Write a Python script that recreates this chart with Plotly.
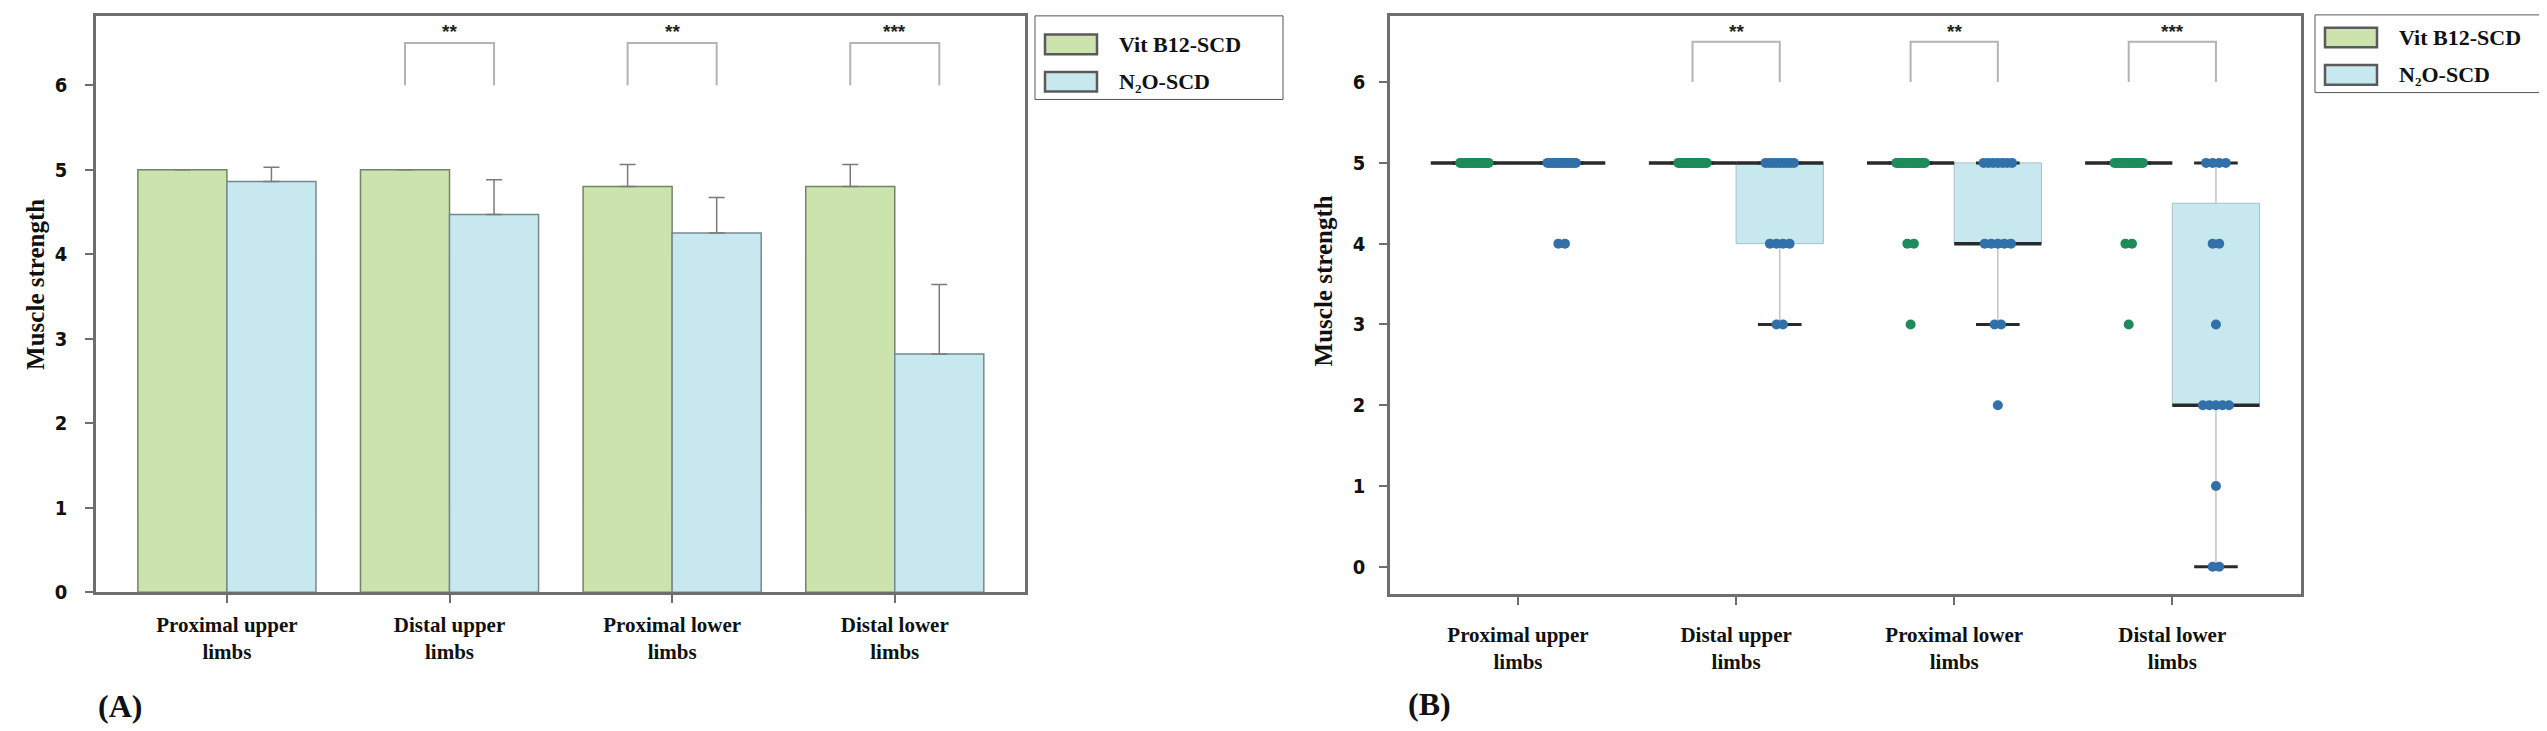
import numpy as np
import plotly.graph_objects as go

W, H = 2547, 731

categories = ['Proximal upper<br>limbs', 'Distal upper<br>limbs',
              'Proximal lower<br>limbs', 'Distal lower<br>limbs']
group_names = ['Vit B12-SCD', 'N₂O-SCD']

# (A) mean score and upper error bar
vit_mean = [5.0, 5.0, 4.8, 4.8]
vit_err = [0.0, 0.0, 0.26, 0.26]
n2o_mean = [4.86, 4.47, 4.25, 2.82]
n2o_err = [0.17, 0.41, 0.42, 0.82]

significance = ['', '**', '**', '***']

# (B) how many patients had each score (dots counted from the picture)
score_levels = [0, 1, 2, 3, 4, 5]
vit_counts = [
    [0, 0, 0, 0, 0, 20],
    [0, 0, 0, 0, 0, 20],
    [0, 0, 0, 1, 2, 17],
    [0, 0, 0, 1, 2, 17],
]
n2o_counts = [
    [0, 0, 0, 0, 2, 13],
    [0, 0, 0, 2, 4, 9],
    [0, 0, 1, 2, 5, 7],
    [2, 1, 5, 1, 2, 4],
]

GREEN = '#cde3ad'
BLUE = '#c6e8ee'
GREEN_DOT = '#1d8b5b'
BLUE_DOT = '#3170a9'
AXIS = '#6e6e6e'
SERIF = 'Liberation Serif, Times New Roman, serif'
NARROW = 'Liberation Sans Narrow, DejaVu Sans Condensed, Arial Narrow, sans-serif'

OFF = 0.2      # half distance between the two groups
BW = 0.4       # bar / box width
pos = np.arange(len(categories))


def px(x):
    return x / W


def py(y):
    return 1 - y / H


fig = go.Figure()

# ---------------- panel A : bars with error bars ----------------
for mean, err, off, col, lc in [(vit_mean, vit_err, -OFF, GREEN, '#73836b'),
                               (n2o_mean, n2o_err, OFF, BLUE, '#74898e')]:
    fig.add_trace(go.Bar(
        x=pos + off, y=mean, width=BW,
        marker=dict(color=col, line=dict(color=lc, width=1.5)),
        error_y=dict(type='data', array=err, arrayminus=[0] * len(err), symmetric=False,
                     color='#7a7a7a', thickness=1.5, width=8),
        showlegend=False, xaxis='x', yaxis='y'
    ))


# ---------------- panel B : box plots with dots ----------------
def box_traces(counts, off, fill, dot):
    bx, bbase, bh = [], [], []
    wx, wy, mx, my, cx, cy, dx, dy = [], [], [], [], [], [], [], []
    for i, c in enumerate(counts):
        vals = np.repeat(score_levels, c)
        q1, med, q3 = np.percentile(vals, [25, 50, 75])
        iqr = q3 - q1
        lo = vals[vals >= q1 - 1.5 * iqr].min()
        hi = vals[vals <= q3 + 1.5 * iqr].max()
        xc = i + off
        bx.append(xc)
        bbase.append(q1)
        bh.append(q3 - q1)
        wx += [xc, xc, None, xc, xc, None]
        wy += [q3, hi, None, q1, lo, None]
        mx += [xc - BW / 2, xc + BW / 2, None]
        my += [med, med, None]
        cx += [xc - BW / 4, xc + BW / 4, None, xc - BW / 4, xc + BW / 4, None]
        cy += [hi, hi, None, lo, lo, None]
        # small deterministic spread so dots at the same score stay visible
        for lvl, k in zip(score_levels, c):
            if k == 0:
                continue
            step = min(0.03, 0.13 / (k - 1)) if k > 1 else 0
            for j in range(k):
                dx.append(xc + (j - (k - 1) / 2) * step)
                dy.append(lvl)
    ax = dict(xaxis='x2', yaxis='y2', showlegend=False, hoverinfo='skip')
    return [
        go.Bar(x=bx, base=bbase, y=bh, width=BW,
               marker=dict(color=fill, line=dict(color='#a9bfc4', width=1)), **ax),
        go.Scatter(x=wx, y=wy, mode='lines', line=dict(color='#c4c4c4', width=1.5), **ax),
        go.Scatter(x=mx, y=my, mode='lines', line=dict(color='#2a2a2a', width=3.5), **ax),
        go.Scatter(x=cx, y=cy, mode='lines', line=dict(color='#2a2a2a', width=3), **ax),
        go.Scatter(x=dx, y=dy, mode='markers', marker=dict(color=dot, size=10), **ax),
    ]


for tr in box_traces(vit_counts, -OFF, GREEN, GREEN_DOT) + box_traces(n2o_counts, OFF, BLUE, BLUE_DOT):
    fig.add_trace(tr)

# significance brackets on both panels
for xa, ya in [('x', 'y'), ('x2', 'y2')]:
    bxs, bys = [], []
    for i, s in enumerate(significance):
        if not s:
            continue
        bxs += [i - OFF, i - OFF, i + OFF, i + OFF, None]
        bys += [6.0, 6.5, 6.5, 6.0, None]
        fig.add_annotation(x=i, y=6.63, xref=xa, yref=ya, text=s, showarrow=False,
                           font=dict(family='Liberation Sans, Arial, sans-serif', size=19,
                                     color='#222', weight='bold'))
    fig.add_trace(go.Scatter(x=bxs, y=bys, mode='lines', line=dict(color='#b3b3b3', width=2),
                             xaxis=xa, yaxis=ya, showlegend=False, hoverinfo='skip'))

axis_common = dict(showline=True, linecolor=AXIS, linewidth=2.5, mirror=True,
                   ticks='outside', tickcolor=AXIS, ticklen=8, tickwidth=2,
                   showgrid=False, zeroline=False)
xfont = dict(family=SERIF, size=21, color='#111', weight='bold')
yfont = dict(family=NARROW, size=20, color='#111', weight='bold')

fig.update_layout(
    width=W, height=H,
    margin=dict(l=0, r=0, t=0, b=0),
    paper_bgcolor='white', plot_bgcolor='white',
    barmode='overlay',
    xaxis=dict(domain=[px(88), px(1017)], range=[-0.588, 3.585], anchor='y',
               tickvals=list(pos), ticktext=categories, tickfont=xfont,
               ticklabelstandoff=4, **axis_common),
    yaxis=dict(domain=[py(594), py(8)], range=[0, 6.82], anchor='x',
               tickvals=[0, 1, 2, 3, 4, 5, 6], tickfont=yfont,
               ticklabelstandoff=14, **axis_common),
    xaxis2=dict(domain=[px(1382), px(2293)], range=[-0.587, 3.59], anchor='y2',
                tickvals=list(pos), ticktext=categories, tickfont=xfont,
                ticklabelstandoff=12, **axis_common),
    yaxis2=dict(domain=[py(596), py(8)], range=[-0.34, 6.82], anchor='x2',
                tickvals=[0, 1, 2, 3, 4, 5, 6], tickfont=yfont,
                ticklabelstandoff=10, **axis_common),
)

# axis titles and panel letters
for x, y in [(12, 281), (1315, 278)]:
    fig.add_annotation(x=px(x), y=py(y), xref='paper', yref='paper', text='Muscle strength',
                       textangle=-90, showarrow=False,
                       font=dict(family=SERIF, size=25, color='#111', weight='bold'))
for x, y, t in [(88, 710, '(A)'), (1398, 708, '(B)')]:
    fig.add_annotation(x=px(x), y=py(y), xref='paper', yref='paper', text=t,
                       xanchor='left', yanchor='middle', showarrow=False,
                       font=dict(family=SERIF, size=32, color='#111', weight='bold'))

# hand-made legends, one per panel
for x0, x1, y0, y1, rows in [(1027, 1275, 8, 93, (37, 75)), (2307, 2540, 7, 86, (30, 68))]:
    fig.add_shape(type='rect', xref='paper', yref='paper', x0=px(x0), x1=px(x1),
                  y0=py(y1), y1=py(y0), line=dict(color='#555', width=1), fillcolor='white')
    for name, col, ry in zip(group_names, [GREEN, BLUE], rows):
        fig.add_shape(type='rect', xref='paper', yref='paper', x0=px(x0 + 10), x1=px(x0 + 62),
                      y0=py(ry + 10), y1=py(ry - 10), line=dict(color='#5a5a5a', width=2.5),
                      fillcolor=col)
        fig.add_annotation(x=px(x0 + 82), y=py(ry), xref='paper', yref='paper', text=name,
                           xanchor='left', yanchor='middle', showarrow=False,
                           font=dict(family=SERIF, size=22, color='#111', weight='bold'))

fig.write_html("out.html")
